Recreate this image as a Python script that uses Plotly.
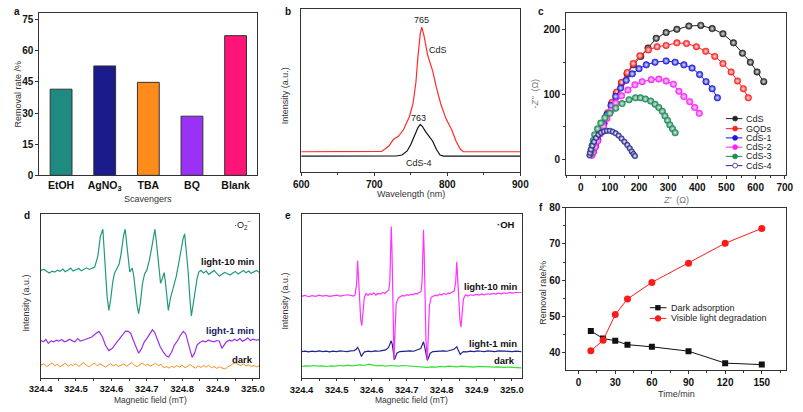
import plotly.graph_objects as go

W, H = 803, 412
FONT = "Liberation Sans"

# ---------------- data ----------------
# (a) scavenger experiment
scavengers = ["EtOH", "AgNO<sub>3</sub>", "TBA", "BQ", "Blank"]
removal_rate = [41.5, 52.7, 44.8, 28.5, 67.3]

# (b) PL spectra
pl_wl_cds = [600, 700, 710, 715, 720, 726, 733, 740, 748, 753, 757, 760, 763, 765, 768, 773, 777,
             780, 785, 791, 798, 806, 812, 818, 822, 900]
pl_int_cds = [12.5, 12.5, 12.7, 14.3, 16, 20, 22, 26, 34, 42, 55, 72, 85, 89, 84, 72, 66,
              62, 52, 42, 33, 26, 19, 14, 12.5, 12.5]
pl_wl_cds4 = [600, 730, 738, 745, 750, 755, 760, 763, 766, 770, 775, 780, 785, 790, 795, 900]
pl_int_cds4 = [9.8, 9.9, 10.5, 13, 17, 22, 27.5, 29.3, 28, 25, 22, 19, 14, 10.5, 9.8, 9.8]

# (c) Nyquist plots (Z', -Z'')
eis_names = ["CdS", "GQDs", "CdS-1", "CdS-2", "CdS-3", "CdS-4"]
eis_zre = {
    "CdS": [38, 43, 50, 58, 68, 79, 92, 106, 122, 140, 159, 181, 206, 231, 259, 293, 330, 371, 412,
            451, 488, 524, 555, 582, 605, 628],
    "GQDs": [38, 43, 50, 58, 68, 80, 93, 108, 124, 141, 160, 180, 203, 232, 262, 293, 330, 363, 397,
             429, 460, 488, 516, 538, 558, 575],
    "CdS-1": [38, 43, 50, 58, 67, 78, 90, 104, 120, 137, 156, 177, 200, 225, 255, 293, 324, 354, 382,
              408, 430, 451, 469],
    "CdS-2": [38, 43, 50, 58, 67, 78, 90, 104, 120, 140, 162, 186, 211, 242, 268, 293, 318, 337, 354,
              374, 391, 407],
    "CdS-3": [34, 36, 39, 43, 48, 58, 69, 83, 100, 120, 142, 166, 188, 205, 222, 240, 255, 268, 280,
              289, 298, 306, 315, 324],
    "CdS-4": [30, 32, 35, 40, 46, 53, 61, 70, 80, 90, 100, 110, 120, 130, 140, 150, 160, 168, 175,
              181, 186],
}
eis_zim = {
    "CdS": [7, 12, 20, 30, 42, 55, 70, 86, 102, 118, 132, 146, 159, 172, 187, 196, 201, 206, 207,
            202, 194, 180, 164, 150, 135, 120],
    "GQDs": [7, 12, 20, 30, 42, 56, 72, 88, 104, 119, 134, 148, 160, 169, 174, 176, 180, 179, 174,
             167, 159, 148, 135, 121, 109, 95],
    "CdS-1": [7, 12, 20, 30, 42, 55, 69, 83, 97, 110, 122, 132, 140, 146, 150, 152, 150, 146, 141,
              131, 120, 109, 95],
    "CdS-2": [6, 11, 19, 28, 39, 51, 63, 75, 87, 98, 107, 115, 120, 123, 124, 121, 116, 105, 97,
              89, 80, 71],
    "CdS-3": [8, 14, 21, 29, 38, 47, 56, 64, 71, 79, 86, 92, 95, 95, 93, 90, 85, 80, 74,
              67, 60, 53, 47, 41],
    "CdS-4": [6, 10, 15, 21, 27, 33, 38, 41, 43, 44, 44, 42.5, 40, 36.5, 32, 27, 22, 17, 12,
              8, 5],
}

# (d) EPR, DMPO-.O2-
d10_x = [324.400, 324.410, 324.418, 324.425, 324.433, 324.440, 324.448, 324.455, 324.463, 324.470,
         324.478, 324.485, 324.492, 324.500, 324.508, 324.515, 324.522, 324.530, 324.538, 324.545,
         324.553, 324.562, 324.569, 324.576, 324.583, 324.588, 324.593, 324.598, 324.604, 324.609,
         324.613, 324.618, 324.622, 324.627, 324.631, 324.635, 324.639, 324.644, 324.648, 324.652,
         324.656, 324.659, 324.663, 324.668, 324.673, 324.677, 324.682, 324.688, 324.694, 324.700,
         324.707, 324.714, 324.719, 324.723, 324.727, 324.730, 324.735, 324.739, 324.744, 324.749,
         324.752, 324.755, 324.761, 324.767, 324.773, 324.778, 324.783, 324.790, 324.796, 324.802,
         324.807, 324.812, 324.817, 324.822, 324.826, 324.831, 324.838, 324.842, 324.847, 324.853,
         324.860, 324.868, 324.875, 324.883, 324.890, 324.898, 324.905, 324.913, 324.920, 324.928,
         324.935, 324.943, 324.950, 324.958, 324.965, 324.973, 324.980, 324.988, 324.995, 325.003,
         325.010, 325.018]
d10_y = [330, 333, 327, 322, 328, 325, 331, 327, 334, 326,
         331, 337, 328, 332, 336, 329, 334, 338, 333, 336,
         340, 375, 435, 457, 325, 250, 207, 240, 295, 322,
         330, 340, 350, 378, 415, 440, 457, 410, 365, 325,
         332, 337, 315, 265, 220, 197, 230, 290, 320, 330,
         360, 400, 440, 457, 420, 385, 330, 290, 305, 323,
         300, 270, 207, 245, 270, 295, 310, 350, 395, 425,
         443, 390, 325, 240, 190, 225, 285, 305, 325, 330,
         322, 328, 318, 326, 330, 320, 313, 318, 324, 320,
         316, 322, 327, 319, 324, 330, 323, 328, 321, 326,
         330, 324]
d1_x = [324.400, 324.408, 324.415, 324.422, 324.430, 324.437, 324.445, 324.452, 324.460, 324.467,
        324.475, 324.482, 324.490, 324.497, 324.505, 324.512, 324.520, 324.527, 324.535, 324.545,
        324.555, 324.565, 324.575, 324.583, 324.593, 324.603, 324.613, 324.622, 324.632, 324.640,
        324.648, 324.655, 324.662, 324.670, 324.677, 324.685, 324.693, 324.700, 324.708, 324.716,
        324.722, 324.730, 324.738, 324.746, 324.755, 324.762, 324.770, 324.778, 324.786, 324.794,
        324.803, 324.810, 324.816, 324.822, 324.828, 324.835, 324.842, 324.850, 324.858, 324.866,
        324.874, 324.882, 324.890, 324.898, 324.905, 324.912, 324.918, 324.925, 324.933, 324.940,
        324.948, 324.955, 324.963, 324.970, 324.978, 324.985, 324.993, 325.000, 325.010, 325.018]
d1_y = [115, 110, 117, 105, 113, 110, 115, 112, 117, 110,
        113, 118, 113, 110, 120, 112, 115, 118, 123, 125,
        135, 142, 125, 100, 83, 90, 105, 118, 132, 143,
        142, 135, 115, 90, 75, 88, 110, 120, 135, 147,
        140, 115, 95, 80, 67, 63, 78, 100, 112, 128,
        142, 135, 110, 80, 62, 75, 100, 108, 113, 110,
        115, 112, 110, 114, 112, 90, 100, 110, 115, 112,
        118, 113, 120, 112, 116, 122, 114, 118, 115, 117]
d0_x = [324.400, 324.410, 324.418, 324.425, 324.433, 324.440, 324.448, 324.455, 324.463, 324.470,
        324.478, 324.485, 324.492, 324.500, 324.508, 324.515, 324.522, 324.530, 324.538, 324.545,
        324.553, 324.560, 324.568, 324.575, 324.583, 324.590, 324.598, 324.605, 324.613, 324.620,
        324.628, 324.635, 324.643, 324.650, 324.658, 324.665, 324.673, 324.680, 324.688, 324.695,
        324.703, 324.710, 324.718, 324.725, 324.733, 324.740, 324.748, 324.755, 324.763, 324.770,
        324.778, 324.785, 324.793, 324.800, 324.808, 324.815, 324.823, 324.830, 324.838, 324.845,
        324.853, 324.860, 324.868, 324.875, 324.883, 324.890, 324.898, 324.905, 324.913, 324.920,
        324.928, 324.935, 324.943, 324.950, 324.958, 324.965, 324.973, 324.980, 324.988, 324.995,
        325.003, 325.010, 325.018]
d0_y = [38, 42, 34, 40, 45, 36, 41, 33, 39, 44,
        35, 40, 37, 43, 34, 39, 46, 37, 33, 40,
        44, 36, 42, 38, 32, 37, 43, 36, 40, 34,
        38, 42, 35, 40, 46, 38, 33, 39, 45, 37,
        41, 35, 40, 44, 36, 41, 30, 34, 29, 35,
        31, 37, 32, 38, 30, 35, 40, 33, 29, 36,
        31, 37, 32, 38, 30, 34, 28, 33, 30, 26,
        32, 38, 42, 45, 40, 37, 42, 36, 39, 34,
        37, 33, 36]

# (e) EPR, DMPO-.OH
e10_x = [324.400, 324.410, 324.420, 324.430, 324.440, 324.450, 324.460, 324.470, 324.480, 324.490,
         324.500, 324.510, 324.520, 324.530, 324.540, 324.548, 324.553, 324.557, 324.560, 324.563,
         324.566, 324.569, 324.572, 324.575, 324.579, 324.584, 324.590, 324.595, 324.600, 324.606,
         324.612, 324.618, 324.625, 324.632, 324.638, 324.644, 324.649, 324.652, 324.654, 324.656,
         324.658, 324.660, 324.662, 324.664, 324.667, 324.670, 324.676, 324.682, 324.688, 324.694,
         324.700, 324.706, 324.712, 324.718, 324.724, 324.730, 324.736, 324.741, 324.744, 324.746,
         324.748, 324.750, 324.752, 324.755, 324.759, 324.762, 324.765, 324.770, 324.776, 324.782,
         324.788, 324.794, 324.800, 324.806, 324.812, 324.818, 324.824, 324.830, 324.836, 324.840,
         324.843, 324.846, 324.849, 324.852, 324.855, 324.858, 324.862, 324.868, 324.875, 324.882,
         324.890, 324.898, 324.906, 324.914, 324.922, 324.930, 324.938, 324.946, 324.954, 324.962,
         324.970, 324.978, 324.986, 324.994, 325.002, 325.010, 325.020, 325.028]
e10_y = [253, 256, 252, 255, 253, 257, 254, 256, 253, 255,
         257, 254, 256, 258, 256, 254, 258, 290, 363, 300,
         230, 180, 163, 200, 248, 262, 256, 262, 258, 264,
         257, 262, 260, 265, 262, 268, 272, 300, 400, 468,
         400, 250, 120, 58, 150, 230, 248, 252, 256, 254,
         258, 256, 260, 258, 262, 260, 265, 268, 300, 400,
         458, 390, 250, 120, 58, 150, 225, 250, 254, 257,
         255, 260, 257, 262, 259, 263, 262, 266, 270, 300,
         360, 300, 230, 180, 158, 200, 245, 258, 254, 258,
         256, 259, 257, 260, 258, 261, 259, 262, 260, 263,
         261, 264, 262, 265, 263, 265, 264, 265]
e1_x = [324.400, 324.410, 324.420, 324.430, 324.440, 324.450, 324.460, 324.470, 324.480, 324.490,
        324.500, 324.510, 324.520, 324.530, 324.540, 324.550, 324.556, 324.560, 324.564, 324.568,
        324.571, 324.575, 324.580, 324.590, 324.600, 324.610, 324.620, 324.630, 324.640, 324.648,
        324.653, 324.656, 324.659, 324.662, 324.665, 324.668, 324.672, 324.680, 324.690, 324.700,
        324.710, 324.720, 324.730, 324.740, 324.745, 324.748, 324.751, 324.755, 324.759, 324.762,
        324.767, 324.775, 324.785, 324.795, 324.805, 324.815, 324.825, 324.835, 324.840, 324.843,
        324.846, 324.850, 324.853, 324.857, 324.862, 324.872, 324.882, 324.892, 324.902, 324.912,
        324.922, 324.932, 324.942, 324.952, 324.962, 324.972, 324.982, 324.992, 325.002, 325.012,
        325.028]
e1_y = [83, 84, 82, 84, 83, 85, 83, 84, 82, 84,
        83, 85, 84, 83, 85, 86, 90, 96, 88, 72,
        68, 76, 82, 84, 83, 85, 84, 86, 88, 95,
        110, 116, 105, 75, 58, 65, 78, 83, 84, 83,
        85, 84, 87, 92, 105, 113, 100, 70, 56, 63,
        78, 83, 84, 83, 85, 84, 86, 90, 95, 98,
        90, 78, 74, 79, 83, 82, 84, 83, 85, 84,
        83, 85, 84, 83, 85, 84, 83, 84, 83, 84,
        83]
e0_x = [324.400, 324.412, 324.424, 324.436, 324.448, 324.460, 324.472, 324.484, 324.496, 324.508,
        324.520, 324.532, 324.544, 324.556, 324.568, 324.580, 324.592, 324.604, 324.616, 324.628,
        324.640, 324.652, 324.664, 324.676, 324.688, 324.700, 324.712, 324.724, 324.736, 324.748,
        324.760, 324.772, 324.784, 324.796, 324.808, 324.820, 324.832, 324.844, 324.856, 324.868,
        324.880, 324.892, 324.904, 324.916, 324.928, 324.940, 324.952, 324.964, 324.976, 324.988,
        325.000, 325.012, 325.028]
e0_y = [37, 39, 38, 40, 38, 39, 37, 39, 38, 40,
        39, 41, 39, 40, 42, 40, 44, 41, 39, 40,
        38, 40, 39, 38, 40, 39, 38, 37, 38, 36,
        34, 36, 35, 37, 36, 38, 37, 36, 38, 37,
        36, 35, 37, 36, 35, 36, 35, 36, 34, 35,
        34, 33, 33]

# (f) kinetics
time_min = [10, 20, 30, 40, 60, 90, 120, 150]
dark_adsorption = [46.0, 43.9, 43.3, 42.2, 41.6, 40.4, 37.1, 36.7]
visible_light = [40.5, 43.4, 50.5, 54.8, 59.4, 64.7, 70.2, 74.3]

# ---------------- figure ----------------
def X(p):
    return p / W


def Y(p):
    return 1 - p / H


fig = go.Figure()

TICKFONT = dict(family=FONT, size=10, color="#111", weight="bold")
AXLINE = dict(showline=True, mirror=True, linecolor="#333", linewidth=1,
              tickcolor="#333", showgrid=False, zeroline=False, tickfont=TICKFONT)

# (a)
bar_colors = ["#1f8a80", "#1b1b8c", "#ff8c1a", "#9a32f5", "#ff1477"]
fig.add_trace(go.Bar(x=scavengers, y=removal_rate, marker=dict(color=bar_colors,
                     line=dict(color="#333", width=1)), width=0.5, xaxis="x", yaxis="y",
                     showlegend=False))

# (b)
fig.add_trace(go.Scatter(x=pl_wl_cds, y=pl_int_cds, mode="lines", line=dict(color="#ff2a2a", width=1.2),
                         xaxis="x2", yaxis="y2", showlegend=False))
fig.add_trace(go.Scatter(x=pl_wl_cds4, y=pl_int_cds4, mode="lines", line=dict(color="#111", width=1.2),
                         xaxis="x2", yaxis="y2", showlegend=False))

# (c)
eis_colors = {"CdS": "#222222", "GQDs": "#ff2020", "CdS-1": "#1a1ae0", "CdS-2": "#ff20ff",
              "CdS-3": "#1a8c55", "CdS-4": "#2a2a90"}
for name in eis_names:
    col = eis_colors[name]
    center = "#ffffff" if name == "CdS-4" else "#e8e8e8"
    fig.add_trace(go.Scatter(x=eis_zre[name], y=eis_zim[name], mode="lines+markers", name=name,
                             line=dict(color=col, width=1),
                             marker=dict(size=6.5 if name != "CdS-4" else 5.5, color=col, symbol="circle",
                                         line=dict(color=col, width=0.6),
                                         gradient=dict(type="radial", color=center)),
                             xaxis="x3", yaxis="y3", showlegend=False))

# (d)
fig.add_trace(go.Scatter(x=d0_x, y=d0_y, mode="lines", line=dict(color="#ff8a1a", width=1),
                         xaxis="x4", yaxis="y4", showlegend=False))
fig.add_trace(go.Scatter(x=d1_x, y=d1_y, mode="lines", line=dict(color="#9a30e8", width=1.2),
                         xaxis="x4", yaxis="y4", showlegend=False))
fig.add_trace(go.Scatter(x=d10_x, y=d10_y, mode="lines", line=dict(color="#1f9a7c", width=1.2),
                         xaxis="x4", yaxis="y4", showlegend=False))

# (e)
fig.add_trace(go.Scatter(x=e0_x, y=e0_y, mode="lines", line=dict(color="#33e033", width=1.2),
                         xaxis="x5", yaxis="y5", showlegend=False))
fig.add_trace(go.Scatter(x=e1_x, y=e1_y, mode="lines", line=dict(color="#22228c", width=1.2),
                         xaxis="x5", yaxis="y5", showlegend=False))
fig.add_trace(go.Scatter(x=e10_x, y=e10_y, mode="lines", line=dict(color="#ff33ff", width=1.2),
                         xaxis="x5", yaxis="y5", showlegend=False))

# (f)
fig.add_trace(go.Scatter(x=time_min, y=dark_adsorption, mode="lines+markers", name="Dark adsorption",
                         line=dict(color="#111", width=1), marker=dict(symbol="square", size=6, color="#111"),
                         xaxis="x6", yaxis="y6", showlegend=False))
fig.add_trace(go.Scatter(x=time_min, y=visible_light, mode="lines+markers", name="Visible light degradation",
                         line=dict(color="#ff1a1a", width=1), marker=dict(symbol="circle", size=7, color="#ff1a1a"),
                         xaxis="x6", yaxis="y6", showlegend=False))

layout = dict(
    width=W, height=H, margin=dict(l=0, r=0, t=0, b=0),
    paper_bgcolor="white", plot_bgcolor="white",
    font=dict(family=FONT, size=9, color="#222"),
    showlegend=False,
    bargap=0.5,
)

EPR_TICKFONT = dict(TICKFONT, size=9.5)

# axes
layout["xaxis"] = dict(AXLINE, domain=[X(28), X(252)], anchor="y", ticks="", type="category",
                       tickfont=dict(TICKFONT, size=10.5))
layout["yaxis"] = dict(AXLINE, domain=[Y(174), Y(7)], anchor="x", range=[0, 78.3], dtick=15, tick0=0,
                       ticks="outside", ticklen=3)

layout["xaxis2"] = dict(AXLINE, domain=[X(297), X(522)], anchor="y2", range=[600, 900], dtick=100,
                        ticks="outside", ticklen=3, minor=dict(dtick=50, ticks="outside", ticklen=2, tickcolor="#333"))
layout["yaxis2"] = dict(AXLINE, domain=[Y(170.7), Y(3.3)], anchor="x2", range=[0, 100], ticks="",
                        showticklabels=False)

layout["xaxis3"] = dict(AXLINE, domain=[X(569), X(795)], anchor="y3", range=[-50, 705], dtick=100, tick0=0,
                        ticks="outside", ticklen=3, minor=dict(dtick=50, ticks="outside", ticklen=2, tickcolor="#333"))
layout["yaxis3"] = dict(AXLINE, domain=[Y(174), Y(7.3)], anchor="x3", range=[-25, 226], dtick=100, tick0=0,
                        ticks="outside", ticklen=3, minor=dict(dtick=50, ticks="outside", ticklen=2, tickcolor="#333"))

layout["xaxis4"] = dict(AXLINE, domain=[X(29.3), X(254)], anchor="y4", range=[324.4, 325.018], dtick=0.1,
                        tick0=324.4, tickformat=".1f", ticks="outside", ticklen=2, tickfont=EPR_TICKFONT,
                        minor=dict(dtick=0.05, ticks="outside", ticklen=2, tickcolor="#333"))
layout["yaxis4"] = dict(AXLINE, domain=[Y(381.7), Y(214)], anchor="x4", range=[0, 503], ticks="",
                        showticklabels=False)

layout["xaxis5"] = dict(AXLINE, domain=[X(297.3), X(523.3)], anchor="y5", range=[324.4, 325.028], dtick=0.1,
                        tick0=324.4, tickformat=".1f", ticks="outside", ticklen=2, tickfont=EPR_TICKFONT,
                        minor=dict(dtick=0.05, ticks="outside", ticklen=2, tickcolor="#333"))
layout["yaxis5"] = dict(AXLINE, domain=[Y(382.7), Y(214)], anchor="x5", range=[0, 506], ticks="",
                        showticklabels=False)

layout["xaxis6"] = dict(AXLINE, domain=[X(569.3), X(795)], anchor="y6", range=[-10, 170], dtick=30, tick0=0,
                        ticks="outside", ticklen=3, minor=dict(dtick=15, ticks="outside", ticklen=2, tickcolor="#333"))
layout["yaxis6"] = dict(AXLINE, domain=[Y(374), Y(207.3)], anchor="x6", range=[35.2, 80], dtick=10, tick0=40,
                        ticks="outside", ticklen=3, minor=dict(dtick=5, ticks="outside", ticklen=2, tickcolor="#333"))

fig.update_layout(**layout)

# annotations: text in pixel positions
def ann(text, x, y, size=9, color="#222", bold=False, angle=0, xanchor="center", yanchor="middle"):
    fig.add_annotation(text=text, x=X(x), y=Y(y), xref="paper", yref="paper", showarrow=False,
                       textangle=angle, xanchor=xanchor, yanchor=yanchor,
                       font=dict(family=FONT, size=size, color=color, weight="bold" if bold else "normal"))

# panel letters
ann("a", 5, 6, size=10, bold=True, color="#111")
ann("b", 283, 6, size=10, bold=True, color="#111")
ann("c", 543, 6, size=10, bold=True, color="#111")
ann("d", 15, 215, size=10, bold=True, color="#111")
ann("e", 283, 215, size=10, bold=True, color="#111")
ann("f", 543, 207, size=10, bold=True, color="#111")

# axis titles
ann("Scavengers", 140, 198, color="#333")
ann("Removal rate /%", 6, 90, angle=-90, color="#333")
ann("Wavelength (nm)", 410, 193, color="#333")
ann("Intensity (a.u.)", 280, 92, angle=-90, color="#333")
ann("<i>Z'</i>  (Ω)", 682, 199, color="#777")
ann("-<i>Z''</i>  (Ω)", 537, 90, angle=-90, color="#777")
ann("Magnetic field (mT)", 142, 405, size=8.5, color="#333")
ann("Intensity (a.u.)", 14, 305, angle=-90, color="#333")
ann("Magnetic field (mT)", 410, 405, size=8.5, color="#333")
ann("Intensity (a.u.)", 280, 303, angle=-90, color="#333")
ann("Time/min", 682, 399, color="#333")
ann("Removal rate/%", 545, 295, angle=-90, color="#333")

# panel b labels
ann("765", 420, 14, color="#222")
ann("CdS", 437, 45, color="#222")
ann("763", 417, 115, color="#222")
ann("CdS-4", 418, 161, color="#222")

# panel d/e labels
ann("light-10 min", 222, 262, size=9.5, bold=True, color="#111")
ann("light-1 min", 224, 333, size=9.5, bold=True, color="#1a1a60")
ann("dark", 237, 363, size=9.5, bold=True, color="#111")
ann("·O<sub>2</sub><sup>−</sup>", 237, 225, size=9, color="#222")
ann("light-10 min", 492, 288, size=9.5, bold=True, color="#111")
ann("light-1 min", 494, 347, size=9.5, bold=True, color="#111")
ann("dark", 506, 364, size=9.5, bold=True, color="#111")
ann("·OH", 507, 225, size=9.5, bold=True, color="#111")

# manual legend (c)
leg_y = [115.7, 126, 135.5, 145, 154.5, 164]
for name, yy in zip(eis_names, leg_y):
    col = eis_colors[name]
    fig.add_shape(type="line", xref="paper", yref="paper", x0=X(733), x1=X(750), y0=Y(yy), y1=Y(yy),
                  line=dict(color=col, width=1))
    fig.add_shape(type="circle", xref="paper", yref="paper", x0=X(740), x1=X(745), y0=Y(yy + 2.5),
                  y1=Y(yy - 2.5), line=dict(color=col, width=0.8),
                  fillcolor="white" if name == "CdS-4" else col)
    ann(name, 751.5, yy, size=9, color="#222", xanchor="left")

# manual legend (f)
fig.add_shape(type="line", xref="paper", yref="paper", x0=X(655), x1=X(672), y0=Y(310), y1=Y(310),
              line=dict(color="#111", width=1))
fig.add_shape(type="rect", xref="paper", yref="paper", x0=X(660.5), x1=X(666), y0=Y(312.7), y1=Y(307.3),
              line=dict(color="#111", width=0), fillcolor="#111")
ann("Dark adsorption", 675, 310, size=9, color="#222", xanchor="left")
fig.add_shape(type="line", xref="paper", yref="paper", x0=X(655), x1=X(672), y0=Y(321), y1=Y(321),
              line=dict(color="#ff1a1a", width=1))
fig.add_shape(type="circle", xref="paper", yref="paper", x0=X(660.2), x1=X(666.6), y0=Y(324.2), y1=Y(317.8),
              line=dict(color="#ff1a1a", width=0), fillcolor="#ff1a1a")
ann("Visible light degradation", 675, 321, size=9, color="#222", xanchor="left")

fig.write_html("out.html", config={"displayModeBar": False},
               post_script="document.body.style.margin='0';document.body.style.overflow='hidden';")
